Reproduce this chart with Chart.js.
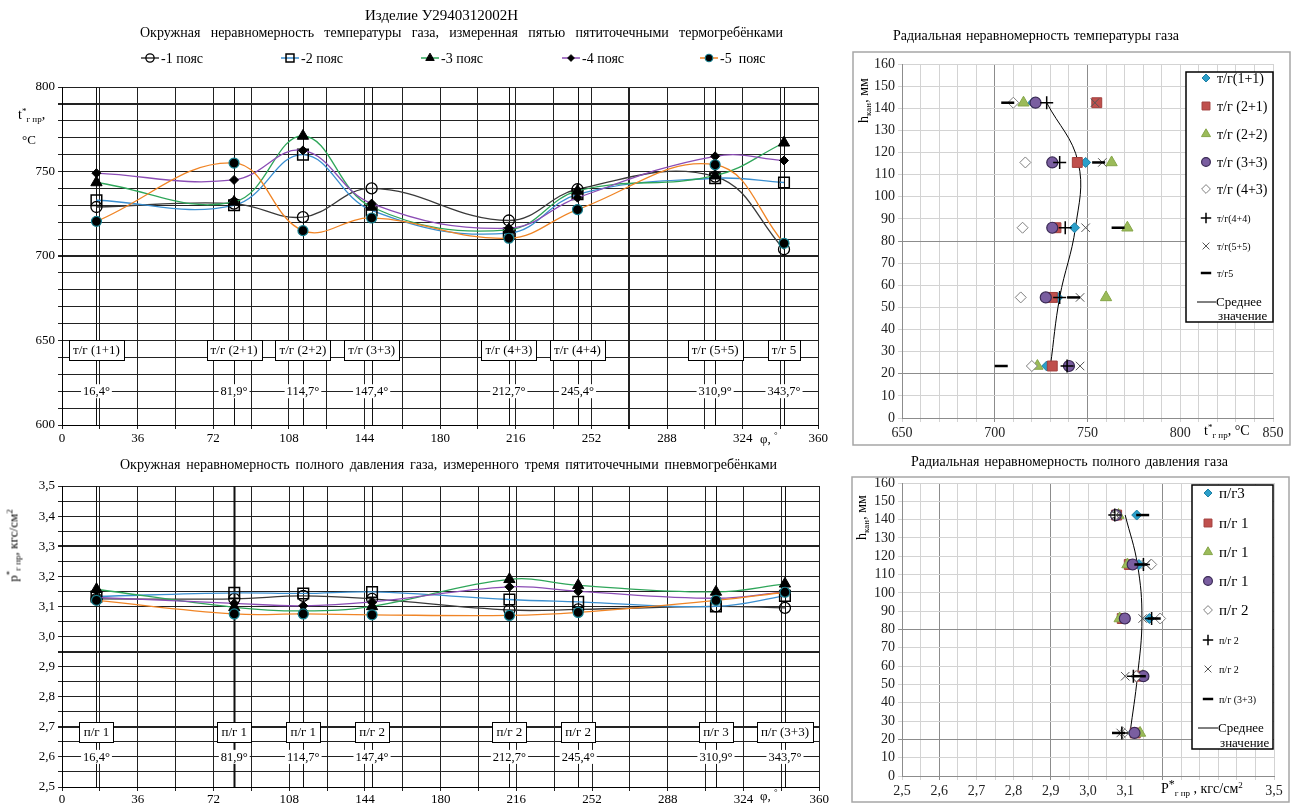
<!DOCTYPE html>
<html lang="ru">
<head>
<meta charset="utf-8">
<title>Изделие У2940312002Н</title>
<script src="https://cdn.jsdelivr.net/npm/chart.js@4.4.1/dist/chart.umd.min.js"></script>
<style>
  body { margin:0; width:1293px; height:807px; background:#fff; position:relative; overflow:hidden;
         font-family:"Liberation Serif","Times New Roman",serif; color:#000; }
  canvas { position:absolute; }
  .t { position:absolute; white-space:nowrap; z-index:2; line-height:1.1; }
  .j { white-space:normal; text-align:justify; text-align-last:justify; }
  .rot { transform:rotate(-90deg); text-align:center; }
  .sp { position:relative; top:-5px; font-size:9px; }
  .sb { position:relative; top:3px; font-size:9px; }
</style>
</head>
<body>
<canvas id="cTemp" width="830" height="455" style="left:0;top:0"></canvas>
<canvas id="cTempRad" width="448" height="430" style="left:845px;top:20px"></canvas>
<canvas id="cPres" width="830" height="357" style="left:0;top:450px"></canvas>
<canvas id="cPresRad" width="448" height="362" style="left:845px;top:445px"></canvas>

<div class="t" style="left:365px;top:7px;font-size:15px">Изделие У2940312002Н</div>
<div class="t j" style="left:140px;top:25px;width:643px;font-size:14px">Окружная неравномерность температуры газа, измеренная пятью пятиточечными термогребёнками</div>
<div class="t" style="left:18px;top:107px;font-size:14px">t<span class="sp">*</span><span class="sb">г пр</span>,</div>
<div class="t" style="left:22px;top:133px;font-size:13px">°C</div>
<div class="t" style="left:760px;top:432px;font-size:13px">φ, <span class="sp">°</span></div>

<div class="t j" style="left:120px;top:457px;width:657px;font-size:14px">Окружная неравномерность полного давления газа, измеренного тремя пятиточечными пневмогребёнками</div>
<div class="t rot" style="left:-45px;top:537px;width:120px;height:17px;font-size:13px">p<span class="sp">*</span><span class="sb">г пр</span>, кгс/см<span class="sp">2</span></div>
<div class="t" style="left:760px;top:789px;font-size:13px">φ, <span class="sp">°</span></div>

<div class="t j" style="left:893px;top:28px;width:286px;font-size:14px">Радиальная неравномерность температуры газа</div>
<div class="t rot" style="left:822px;top:92px;width:84px;height:17px;font-size:14px">h<span class="sb">кан</span>, мм</div>
<div class="t" style="left:1204px;top:423px;font-size:14px">t<span class="sp">*</span><span class="sb">г пр</span>, °C</div>

<div class="t j" style="left:911px;top:454px;width:317px;font-size:14px">Радиальная неравномерность полного давления газа</div>
<div class="t rot" style="left:820px;top:509px;width:84px;height:17px;font-size:14px">h<span class="sb">кан</span>, мм</div>
<div class="t" style="left:1161px;top:781px;font-size:14px">P<span class="sp" style="font-size:12px">*</span><span class="sb">г пр</span> , кгс/см<span class="sp">2</span></div>

<script>
// ---- circumferential data ----
const angles = [16.4, 81.9, 114.7, 147.4, 212.7, 245.4, 310.9, 343.7];
const angleLabels = ['16,4°', '81,9°', '114,7°', '147,4°', '212,7°', '245,4°', '310,9°', '343,7°'];
const tempProbeNames = ['т/г (1+1)', 'т/г (2+1)', 'т/г (2+2)', 'т/г (3+3)', 'т/г (4+3)', 'т/г (4+4)', 'т/г (5+5)', 'т/г 5'];
const presProbeNames = ['п/г 1', 'п/г 1', 'п/г 1', 'п/г 2', 'п/г 2', 'п/г 2', 'п/г 3', 'п/г (3+3)'];
const beltNames = ['-1 пояс', '-2 пояс', '-3 пояс', '-4 пояс', '-5  пояс'];

const tempBelt1 = [729, 731, 723, 740, 721, 739.5, 747, 704];
const tempBelt2 = [733, 730, 760, 727, 713.5, 736.5, 746, 743.5];
const tempBelt3 = [743.5, 732, 771, 729, 715.5, 738.5, 747.5, 767];
const tempBelt4 = [749, 745, 762.5, 731, 716.5, 734.5, 759, 756.5];
const tempBelt5 = [720.5, 755, 715, 722.5, 710.5, 727.5, 754, 707.5];

const presBelt1 = [3.125, 3.125, 3.135, 3.125, 3.088, 3.09, 3.10, 3.095];
const presBelt2 = [3.133, 3.145, 3.143, 3.148, 3.123, 3.115, 3.10, 3.135];
const presBelt3 = [3.157, 3.097, 3.085, 3.10, 3.19, 3.17, 3.148, 3.175];
const presBelt4 = [3.13, 3.11, 3.102, 3.115, 3.165, 3.15, 3.127, 3.148];
const presBelt5 = [3.12, 3.075, 3.075, 3.072, 3.07, 3.08, 3.12, 3.147];

// ---- radial data ----
const heights = [23.5, 54.5, 86, 115.5, 142.5];
const radTempNames = ['т/г(1+1)', 'т/г (2+1)', 'т/г (2+2)', 'т/г (3+3)', 'т/г (4+3)', 'т/г(4+4)', 'т/г(5+5)', 'т/г5'];
const radTemp11 = [728, 734, 743, 749, 720.5];
const radTemp21 = [731, 731, 733, 744.5, 755];
const radTemp22 = [723, 760, 771.5, 763, 715.5];
const radTemp33 = [740, 727.5, 731, 731, 722];
const radTemp43 = [720, 714, 715, 716.5, 710];
const radTemp44 = [739, 735, 738, 735, 728];
const radTemp55 = [746, 746, 749, 758, 754];
const radTemp5 = [703.5, 742.5, 766.5, 756, 707];
const radTempMean = [730, 735, 743.5, 745, 728];

const radPresNames = ['п/г3', 'п/г 1', 'п/г 1', 'п/г 1', 'п/г 2', 'п/г 2', 'п/г 2', 'п/г (3+3)'];
const radPres3 = [3.12, 3.129, 3.165, 3.137, 3.131];
const radPres1a = [3.127, 3.14, 3.092, 3.111, 3.077];
const radPres1b = [3.14, 3.147, 3.085, 3.106, 3.082];
const radPres1c = [3.125, 3.149, 3.099, 3.12, 3.075];
const radPres2a = [3.095, 3.13, 3.194, 3.17, 3.073];
const radPres2b = [3.091, 3.122, 3.171, 3.149, 3.072];
const radPres2c = [3.088, 3.10, 3.147, 3.156, 3.075];
const radPres33 = [3.082, 3.138, 3.178, 3.142, 3.147];
const radPresMean = [3.113, 3.133, 3.145, 3.133, 3.10];
const meanName = ['Среднее', 'значение'];

// ---- styles ----
const serif = 'Liberation Serif';
Chart.defaults.font.family = serif;
Chart.defaults.color = '#000';

const beltLine = ['#3a3a3a', '#3b8fd0', '#2fa65a', '#8b4db5', '#f08526'];
const beltMark = [
  { pointStyle: 'circle', radius: 5.5, bg: 'rgba(255,255,255,0)', border: '#000', bw: 1.3 },
  { pointStyle: 'rect', radius: 7.5, bg: 'rgba(255,255,255,0)', border: '#000', bw: 1.5 },
  { pointStyle: 'triangle', radius: 6.5, bg: '#000', border: '#000', bw: 1 },
  { pointStyle: 'rectRot', radius: 4.5, bg: '#000', border: '#000', bw: 1 },
  { pointStyle: 'circle', radius: 5, bg: '#000', border: '#17808f', bw: 1.2 }
];
const radMark = [
  { pointStyle: 'rectRot', radius: 5, bg: '#2b9fca', border: '#1d7fa3', bw: 1 },
  { pointStyle: 'rect', radius: 7, bg: '#c0504d', border: '#a23f3c', bw: 1 },
  { pointStyle: 'triangle', radius: 6.5, bg: '#9bbb59', border: '#86a64a', bw: 1 },
  { pointStyle: 'circle', radius: 5.5, bg: '#7a5ea0', border: '#3a2a55', bw: 1.2 },
  { pointStyle: 'rectRot', radius: 5.5, bg: '#fff', border: '#7f7f7f', bw: 1 },
  { pointStyle: 'cross', radius: 6.5, bg: '#000', border: '#000', bw: 1.5 },
  { pointStyle: 'crossRot', radius: 6, bg: '#555', border: '#555', bw: 1 },
  { pointStyle: 'line', radius: 6.5, bg: '#000', border: '#000', bw: 2.5 }
];

function drawMark(ctx, m, x, y, k) {
  const r = m.radius * (k || 1);
  ctx.save();
  ctx.fillStyle = m.bg; ctx.strokeStyle = m.border; ctx.lineWidth = m.bw;
  if (Chart.helpers && Chart.helpers.drawPoint) {
    Chart.helpers.drawPoint(ctx, { pointStyle: m.pointStyle, radius: r, rotation: 0, borderWidth: m.bw }, x, y);
  } else {
    ctx.beginPath(); ctx.arc(x, y, r, 0, Math.PI * 2); ctx.fill(); ctx.stroke();
  }
  ctx.restore();
}

// vertical probe lines, probe boxes and angle labels
const probePlugin = {
  id: 'probes',
  beforeDatasetsDraw(chart, args, o) {
    const { ctx, chartArea: ca, scales: { x, y } } = chart;
    ctx.save();
    angles.forEach((a, i) => {
      const px = Math.round(x.getPixelForValue(a)) + 0.5;
      ctx.beginPath();
      ctx.strokeStyle = '#111';
      ctx.lineWidth = o.thick.includes(i) ? 2 : 1;
      ctx.moveTo(px, ca.top); ctx.lineTo(px, ca.bottom); ctx.stroke();
    });
    ctx.textAlign = 'center'; ctx.textBaseline = 'middle';
    angles.forEach((a, i) => {
      const px = x.getPixelForValue(a);
      const py = y.getPixelForValue(o.angleAt);
      ctx.font = o.angleFont;
      const w = ctx.measureText(angleLabels[i]).width + 4;
      ctx.fillStyle = '#fff'; ctx.fillRect(px - w / 2, py - 7, w, 14);
      ctx.fillStyle = '#000'; ctx.fillText(angleLabels[i], px, py + 1);

      ctx.font = o.font;
      const t = Math.round(y.getPixelForValue(o.boxTop)), b = Math.round(y.getPixelForValue(o.boxBottom));
      const bw = Math.round(ctx.measureText(o.names[i]).width + 8);
      const bx = Math.round(px - bw / 2);
      ctx.fillStyle = '#fff'; ctx.fillRect(bx, t, bw, b - t);
      ctx.strokeStyle = '#000'; ctx.lineWidth = 1;
      ctx.strokeRect(bx + 0.5, t + 0.5, bw, b - t);
      ctx.fillStyle = '#000'; ctx.fillText(o.names[i], px, (t + b) / 2 + 1);
    });
    ctx.restore();
  }
};

const beltLegend = {
  id: 'beltLegend',
  afterDraw(chart, args, o) {
    const ctx = chart.ctx;
    ctx.save();
    ctx.font = o.font; ctx.textBaseline = 'middle'; ctx.textAlign = 'left';
    o.xs.forEach((mx, i) => {
      ctx.strokeStyle = beltLine[i]; ctx.lineWidth = 1.5;
      ctx.beginPath(); ctx.moveTo(mx - 9, o.y); ctx.lineTo(mx + 9, o.y); ctx.stroke();
      drawMark(ctx, beltMark[i], mx, o.y, 0.75);
      ctx.fillStyle = '#000'; ctx.fillText(beltNames[i], mx + 11, o.y + 1);
    });
    ctx.restore();
  }
};

const radLegend = {
  id: 'radLegend',
  afterDraw(chart, args, o) {
    const ctx = chart.ctx;
    ctx.save();
    const f = o.frame;
    ctx.strokeStyle = '#a6a6a6'; ctx.lineWidth = 1.5;
    ctx.strokeRect(f[0], f[1], f[2] - f[0], f[3] - f[1]);
    const [x1, y1, x2, y2] = o.box;
    ctx.fillStyle = '#fff'; ctx.fillRect(x1, y1, x2 - x1, y2 - y1);
    ctx.strokeStyle = '#000'; ctx.lineWidth = 1.5;
    ctx.strokeRect(x1, y1, x2 - x1, y2 - y1);
    ctx.textAlign = 'left'; ctx.textBaseline = 'middle';
    o.names.forEach((nm, i) => {
      drawMark(ctx, radMark[i], o.markX, o.ys[i], 0.8);
      ctx.font = i < 5 ? o.bigFont : o.smallFont;
      ctx.fillStyle = '#000';
      ctx.fillText(nm, o.textX, o.ys[i] + 1);
    });
    ctx.strokeStyle = '#000'; ctx.lineWidth = 1;
    ctx.beginPath(); ctx.moveTo(o.lineX[0], o.ys[8]); ctx.lineTo(o.lineX[1], o.ys[8]); ctx.stroke();
    ctx.font = o.meanFont;
    ctx.fillText(meanName[0], o.lineX[1], o.ys[8] + 1);
    ctx.fillText(meanName[1], o.lineX[1] + 2, o.ys[9] + 1);
    ctx.restore();
  }
};

// later series are painted on top, as in the source chart
function beltDatasets(series) {
  return series.map((s, i) => ({
    label: beltNames[i],
    data: angles.map((a, j) => ({ x: a, y: s[j] })),
    order: 10 - i,
    borderColor: beltLine[i], borderWidth: 1.3, tension: 0.4, fill: false,
    pointStyle: beltMark[i].pointStyle, pointRadius: beltMark[i].radius,
    pointBackgroundColor: beltMark[i].bg, pointBorderColor: beltMark[i].border,
    pointBorderWidth: beltMark[i].bw
  }));
}

function radDatasets(series, mean) {
  const sets = series.map((s, i) => ({
    data: heights.map((h, j) => ({ x: s[j], y: h })),
    order: 10 - i,
    showLine: false,
    pointStyle: radMark[i].pointStyle, pointRadius: radMark[i].radius,
    pointBackgroundColor: radMark[i].bg, pointBorderColor: radMark[i].border,
    pointBorderWidth: radMark[i].bw
  }));
  sets.push({
    data: heights.map((h, j) => ({ x: mean[j], y: h })),
    order: 20,
    showLine: true, tension: 0.4, borderColor: '#000', borderWidth: 1, pointRadius: 0, fill: false
  });
  return sets;
}

const tickFont = { family: serif, size: 13 };
const radFont = { family: serif, size: 14 };

// ---- top-left: circumferential temperature ----
new Chart(document.getElementById('cTemp'), {
  type: 'line',
  data: { datasets: beltDatasets([tempBelt1, tempBelt2, tempBelt3, tempBelt4, tempBelt5]) },
  options: {
    responsive: false, animation: false,
    layout: { padding: { left: 0, right: 8, top: 87, bottom: 0 }, autoPadding: false },
    plugins: {
      legend: { display: false }, tooltip: { enabled: false },
      probes: { names: tempProbeNames, boxTop: 650.5, boxBottom: 638.5, angleAt: 620, thick: [],
                font: '13px ' + serif, angleFont: '12.5px ' + serif },
      beltLegend: { xs: [150, 290, 430, 571, 709], y: 58, font: '14px ' + serif }
    },
    scales: {
      x: {
        type: 'linear', min: 0, max: 360,
        ticks: { stepSize: 18, autoSkip: false, maxRotation: 0, font: tickFont, padding: 2,
                 callback: v => (v % 36 === 0 ? v : '') },
        grid: { color: '#222', lineWidth: c => (c.tick && c.tick.value === 270 ? 2 : 1), tickLength: 4 },
        border: { color: '#000' },
        afterFit: s => { s.height = 30; }
      },
      y: {
        min: 600, max: 800,
        ticks: { stepSize: 10, autoSkip: false, font: tickFont, callback: v => (v % 50 === 0 ? v : '') },
        grid: { color: '#222', lineWidth: c => (c.tick && (c.tick.value === 700 || c.tick.value === 790) ? 2 : 1), tickLength: 4 },
        border: { color: '#000' },
        afterFit: s => { s.width = 62; }
      }
    }
  },
  plugins: [probePlugin, beltLegend]
});

// ---- bottom-left: circumferential total pressure ----
new Chart(document.getElementById('cPres'), {
  type: 'line',
  data: { datasets: beltDatasets([presBelt1, presBelt2, presBelt3, presBelt4, presBelt5]) },
  options: {
    responsive: false, animation: false,
    layout: { padding: { left: 0, right: 8, top: 36, bottom: 0 }, autoPadding: false },
    plugins: {
      legend: { display: false }, tooltip: { enabled: false },
      probes: { names: presProbeNames, boxTop: 2.716, boxBottom: 2.65, angleAt: 2.6, thick: [1],
                font: '13px ' + serif, angleFont: '12.5px ' + serif }
    },
    scales: {
      x: {
        type: 'linear', min: 0, max: 360,
        ticks: { stepSize: 18, autoSkip: false, maxRotation: 0, font: tickFont, padding: 1,
                 callback: v => (v % 36 === 0 ? v : '') },
        grid: { color: '#222', tickLength: 4 },
        border: { color: '#000' },
        afterFit: s => { s.height = 20; }
      },
      y: {
        min: 2.5, max: 3.5,
        ticks: { stepSize: 0.05, autoSkip: false, font: tickFont,
                 callback: v => { const k = Math.round(v * 100); return k % 10 === 0 ? (k / 100).toFixed(1).replace('.', ',') : ''; } },
        grid: { color: '#222', tickLength: 4,
                lineWidth: c => { if (!c.tick) return 1; const k = Math.round(c.tick.value * 100); return (k === 330 || k === 295 || k === 270) ? 2 : 1; } },
        border: { color: '#000' },
        afterFit: s => { s.width = 62; }
      }
    }
  },
  plugins: [probePlugin]
});

// ---- top-right: radial temperature ----
new Chart(document.getElementById('cTempRad'), {
  type: 'scatter',
  data: { datasets: radDatasets([radTemp11, radTemp21, radTemp22, radTemp33, radTemp43, radTemp44, radTemp55, radTemp5], radTempMean) },
  options: {
    responsive: false, animation: false,
    layout: { padding: { left: 0, right: 20, top: 44, bottom: 0 }, autoPadding: false },
    plugins: {
      legend: { display: false }, tooltip: { enabled: false },
      radLegend: {
        frame: [8, 32, 445, 425], box: [341, 52, 428, 302],
        names: radTempNames, ys: [58, 86, 114, 142, 169, 198, 226, 253, 282, 296],
        markX: 361, textX: 372, lineX: [352, 371],
        bigFont: '14px ' + serif, smallFont: '10px ' + serif, meanFont: '13px ' + serif
      }
    },
    scales: {
      x: {
        type: 'linear', min: 650, max: 850,
        ticks: { stepSize: 10, autoSkip: false, maxRotation: 0, font: radFont, color: '#222',
                 callback: v => (v % 50 === 0 ? v : '') },
        grid: { color: c => (c.tick && (c.tick.value === 700 || c.tick.value === 750) ? '#8c8c8c' : '#d3d3d3'), tickLength: 4 },
        border: { color: '#8c8c8c' },
        afterFit: s => { s.height = 32; }
      },
      y: {
        min: 0, max: 160,
        ticks: { stepSize: 10, autoSkip: false, font: radFont, color: '#222' },
        grid: { color: c => (c.tick && (c.tick.value === 20 || c.tick.value === 80) ? '#8c8c8c' : '#d3d3d3'), tickLength: 4 },
        border: { color: '#8c8c8c' },
        afterFit: s => { s.width = 57; }
      }
    }
  },
  plugins: [radLegend]
});

// ---- bottom-right: radial total pressure ----
new Chart(document.getElementById('cPresRad'), {
  type: 'scatter',
  data: { datasets: radDatasets([radPres3, radPres1a, radPres1b, radPres1c, radPres2a, radPres2b, radPres2c, radPres33], radPresMean) },
  options: {
    responsive: false, animation: false,
    layout: { padding: { left: 0, right: 19, top: 38, bottom: 0 }, autoPadding: false },
    plugins: {
      legend: { display: false }, tooltip: { enabled: false },
      radLegend: {
        frame: [7, 32, 444, 357], box: [347, 40, 428, 304],
        names: radPresNames, ys: [48, 78, 107, 136, 165, 195, 224, 254, 283, 298],
        markX: 363, textX: 374, lineX: [353, 373],
        bigFont: '15px ' + serif, smallFont: '10px ' + serif, meanFont: '13px ' + serif
      }
    },
    scales: {
      x: {
        type: 'linear', min: 2.5, max: 3.5,
        ticks: { stepSize: 0.05, autoSkip: false, maxRotation: 0, font: radFont, color: '#222',
                 callback: v => { const k = Math.round(v * 100); if (k % 10 !== 0 || (k >= 320 && k <= 340)) return ''; return (k / 100).toFixed(1).replace('.', ','); } },
        grid: { color: c => { if (!c.tick) return '#d3d3d3'; const k = Math.round(c.tick.value * 100); return (k === 260 || k === 290 || k === 320) ? '#8c8c8c' : '#d3d3d3'; }, tickLength: 4 },
        border: { color: '#8c8c8c' },
        afterFit: s => { s.height = 31; }
      },
      y: {
        min: 0, max: 160,
        ticks: { stepSize: 10, autoSkip: false, font: radFont, color: '#222' },
        grid: { color: c => (c.tick && (c.tick.value === 20 || c.tick.value === 80) ? '#8c8c8c' : '#d3d3d3'), tickLength: 4 },
        border: { color: '#8c8c8c' },
        afterFit: s => { s.width = 57; }
      }
    }
  },
  plugins: [radLegend]
});
</script>
</body>
</html>
